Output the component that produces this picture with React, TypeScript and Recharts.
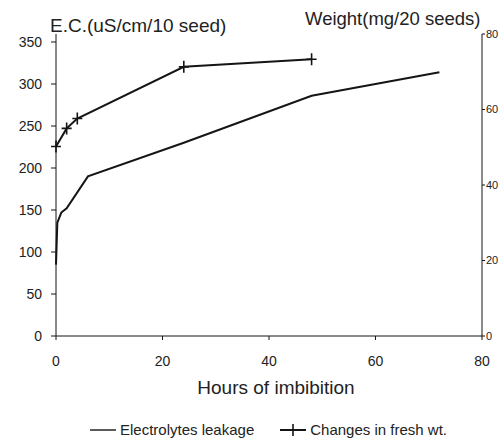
import { Line, LineChart, XAxis, YAxis } from "recharts";

// hours of imbibition
const LEAK_HOURS = [0, 0.25, 1, 2, 6, 24, 48, 72];
// electrolyte leakage, uS/cm/10 seed (left axis)
const LEAK_EC = [85, 135, 147, 152, 190, 230, 286, 314];

const WEIGHT_HOURS = [0, 2, 4, 24, 48];
// fresh weight, mg/20 seeds (right axis)
const WEIGHT_MG = [50.2, 55, 57.6, 71.3, 73.3];

const X_TICKS = [0, 20, 40, 60, 80];
const EC_TICKS = [0, 50, 100, 150, 200, 250, 300, 350];
const WT_TICKS = [0, 20, 40, 60, 80];

const leakData = LEAK_HOURS.map((hour, i) => ({ hour, ec: LEAK_EC[i] }));
const weightData = WEIGHT_HOURS.map((hour, i) => ({ hour, wt: WEIGHT_MG[i] }));

const FONT = "'Liberation Sans', Arial, sans-serif";
const INK = "#151515";
const tick = { fontSize: 14, fill: "#222", fontFamily: FONT };

function PlusDot(props: any) {
  const { cx, cy, index } = props;
  if (cx == null || cy == null) return null;
  return (
    <path
      key={index}
      d={`M${cx - 5},${cy}H${cx + 5}M${cx},${cy - 6}V${cy + 6}`}
      stroke={INK}
      strokeWidth={1.6}
      fill="none"
    />
  );
}

export default function App() {
  return (
    <div
      style={{
        position: "absolute",
        left: 0,
        top: 0,
        width: 500,
        height: 440,
        background: "#fff",
        fontFamily: FONT,
        color: "#222",
      }}
    >
      <LineChart
        width={500}
        height={440}
        margin={{ top: 34, right: 0, bottom: 74, left: 0 }}
      >
        <XAxis
          type="number"
          dataKey="hour"
          domain={[0, 80]}
          ticks={X_TICKS}
          tick={tick}
          tickSize={4}
          tickMargin={16}
          height={30}
          stroke={INK}
          allowDuplicatedCategory={false}
        />
        <YAxis
          yAxisId="ec"
          domain={[0, 350]}
          ticks={EC_TICKS}
          tick={tick}
          tickSize={5}
          tickMargin={9}
          width={56}
          padding={{ top: 8, bottom: 0 }}
          stroke={INK}
        />
        <YAxis
          yAxisId="wt"
          orientation="right"
          domain={[0, 80]}
          ticks={WT_TICKS}
          tick={{ ...tick, fontSize: 11 }}
          tickSize={3}
          tickMargin={1}
          width={18}
          stroke={INK}
        />
        <Line
          yAxisId="ec"
          data={leakData}
          dataKey="ec"
          type="linear"
          stroke={INK}
          strokeWidth={2}
          dot={false}
          isAnimationActive={false}
        />
        <Line
          yAxisId="wt"
          data={weightData}
          dataKey="wt"
          type="linear"
          stroke={INK}
          strokeWidth={2}
          dot={PlusDot}
          activeDot={false}
          isAnimationActive={false}
        />
      </LineChart>

      <div
        style={{
          position: "absolute",
          left: 50,
          top: 16,
          fontSize: 19,
          lineHeight: "20px",
          whiteSpace: "nowrap",
        }}
      >
        E.C.(uS/cm/10 seed)
      </div>
      <div
        style={{
          position: "absolute",
          left: 305,
          top: 9,
          fontSize: 18.5,
          lineHeight: "20px",
          whiteSpace: "nowrap",
        }}
      >
        Weight(mg/20 seeds)
      </div>
      <div
        style={{
          position: "absolute",
          left: 176,
          width: 200,
          top: 377,
          textAlign: "center",
          fontSize: 19,
          lineHeight: "22px",
          whiteSpace: "nowrap",
        }}
      >
        Hours of imbibition
      </div>

      <div
        style={{
          position: "absolute",
          left: 90,
          top: 421,
          display: "flex",
          alignItems: "center",
          fontSize: 15,
          lineHeight: "18px",
          whiteSpace: "nowrap",
        }}
      >
        <svg width={28} height={12} style={{ marginRight: 2 }}>
          <line x1={0} y1={6} x2={26} y2={6} stroke={INK} strokeWidth={1.4} />
        </svg>
        <span>Electrolytes leakage</span>
        <svg width={28} height={14} style={{ marginLeft: 25, marginRight: 3 }}>
          <line x1={1} y1={7} x2={27} y2={7} stroke={INK} strokeWidth={2} />
          <line x1={14} y1={1} x2={14} y2={13} stroke={INK} strokeWidth={1.6} />
        </svg>
        <span>Changes in fresh wt.</span>
      </div>
    </div>
  );
}
